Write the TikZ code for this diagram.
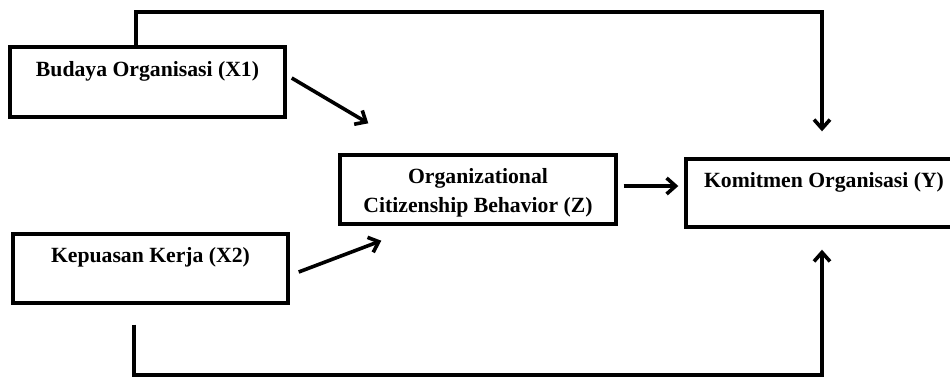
\documentclass[tikz,border=0pt]{standalone}
\usepackage{fontspec}
\setmainfont{Liberation Serif}
\usetikzlibrary{arrows.meta,calc}
\begin{document}
\begin{tikzpicture}[x=1pt,y=-1pt,
  box/.style={draw,line width=3.4pt,minimum width=275pt,minimum height=69pt,inner sep=0pt},
  lbl/.style={font=\fontsize{21.7}{29}\selectfont\bfseries,inner sep=0pt},
  conn/.style={line width=3.6pt},
  arr/.style={conn,-{Straight Barb[length=9pt,width=16pt]}}]
\useasboundingbox (0,0) rectangle (950,378);
\clip (0,0) rectangle (950,378);
% boxes
\node[box,minimum height=70pt] (x1) at (147.5,82) {};
\node[box] (x2) at (150.5,268.5) {};
\node[box,minimum width=276pt] (z) at (478,189.5) {};
\node[box,minimum width=276pt,minimum height=68pt] (y) at (824,193) {};
% labels
\node[lbl,anchor=base] (x1t) at ($(x1.north)+(0,31)$) {Budaya Organisasi (X1)};
\node[lbl,anchor=base] (x2t) at ($(x2.north)+(0,30)$) {Kepuasan Kerja (X2)};
\node[lbl,anchor=base] (yt) at ($(y.north)+(0,30)$) {Komitmen Organisasi (Y)};
\node[lbl,align=center] (zt) at (478,192.5) {Organizational\\Citizenship Behavior (Z)};
% connectors
\coordinate (ta) at (136,12);
\coordinate (tb) at (822,12);
\draw[arr,shorten >=26pt] (x1.north -| ta) -- (ta) -- (tb) -- (y.north -| tb);
\coordinate (ba) at (134,375);
\coordinate (bb) at (822,375);
\draw[arr,shorten <=20pt,shorten >=21pt] (x2.south -| ba) -- (ba) -- (bb) -- (y.south -| bb);
\draw[arr] ($(x1.east)+(5,-4)$) -- ($(z.north west)+(30,-30)$);
\draw[arr] ($(x2.east)+(9,3.5)$) -- ($(z.south west)+(43,15)$);
\draw[arr] ($(z.east)+(6,-3.5)$) -- ($(y.west)+(-6,-7)$);
\end{tikzpicture}
\end{document}
